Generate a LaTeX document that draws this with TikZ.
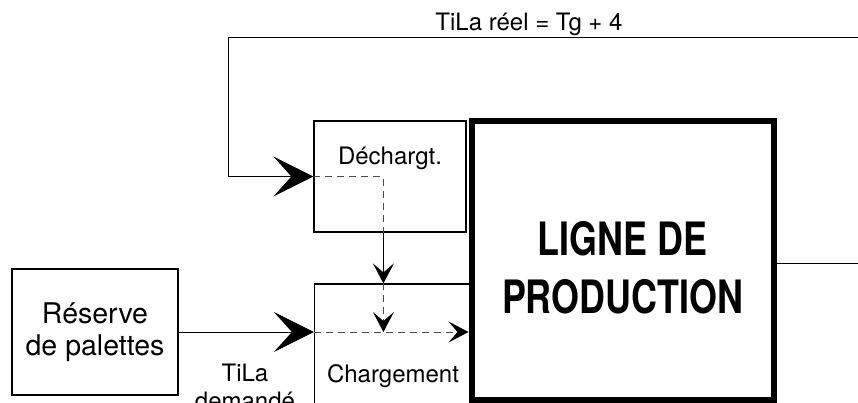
\documentclass[tikz,border=0pt]{standalone}
\usepackage{fontspec}
\setmainfont{TeX Gyre Heros}
\newfontfamily\condfont[FakeStretch=0.78]{TeX Gyre Heros}
\usepackage{tikz}
\usetikzlibrary{positioning,arrows.meta,calc}
\tikzset{
box/.style={
draw,
line width=1.2pt,
inner sep=0pt,
font=\fontsize{24}{28}\selectfont
},
bigbox/.style={
draw,
line width=6pt,
inner sep=0pt,
align=center,
font=\fontsize{46}{58}\selectfont\condfont\bfseries
},
lbl/.style={
inner sep=0pt,
font=\fontsize{24}{28}\selectfont
},
bigarrow/.style={
-{Stealth[length=40pt,width=40pt,inset=18pt]},
line width=1pt
},
arrow/.style={
-{Stealth[length=20pt,width=21pt,inset=9pt,color=black]},
line width=1pt
},
dashline/.style={
dash pattern=on 7pt off 5pt,
line width=1pt,
black!70
}
}
\begin{document}
\begin{tikzpicture}[x=1pt,y=-1pt]
\useasboundingbox (0,0) rectangle (858,402);
\clip (0,0) rectangle (858,402);
\node[box,anchor=base,minimum width=152pt,text height=43pt,text depth=68pt](dech) at (390,164){Déchargt.};
\node[box,anchor=base,minimum width=157pt,text height=98pt,text depth=80pt](charg) at (393,382){Chargement};
\node[box,align=center,minimum width=166pt,minimum height=126pt,font=\fontsize{28.5}{32}\selectfont](reserve) at (95,332){Réserve\\de palettes};
\node[bigbox,anchor=base,minimum width=302pt,text height=192.5pt,text depth=86.5pt](ligne) at (622.5,313){LIGNE DE\\PRODUCTION};
\node[lbl,anchor=base](reel) at (529,30){TiLa réel = Tg + 4};
\node[lbl,align=center,anchor=north](dem) at (245,364){TiLa\\demandé};
\coordinate (retour) at (860,37);
\coordinate (sortie) at (860,263);
\coordinate (pli) at ([xshift=70pt]dech.west);

\draw[bigarrow](retour) -| ([xshift=-85pt]dech.west) -- (dech.west);
\draw[bigarrow](reserve.east) -- (reserve.east -| charg.west);
\draw[dashline](dech.west) -- (pli) -- (pli |- dech.south);
\draw[arrow](pli |- dech.south) -- (pli |- charg.north);
\foreach \x/\y in {pli |- charg.north/pli |- reserve.east,reserve.east -| charg.west/reserve.east -| ligne.west}
\draw[dashline,arrow](\x) -- (\y);
\draw[line width=1pt](ligne.east |- sortie) -- (sortie);
\end{tikzpicture}
\end{document}
